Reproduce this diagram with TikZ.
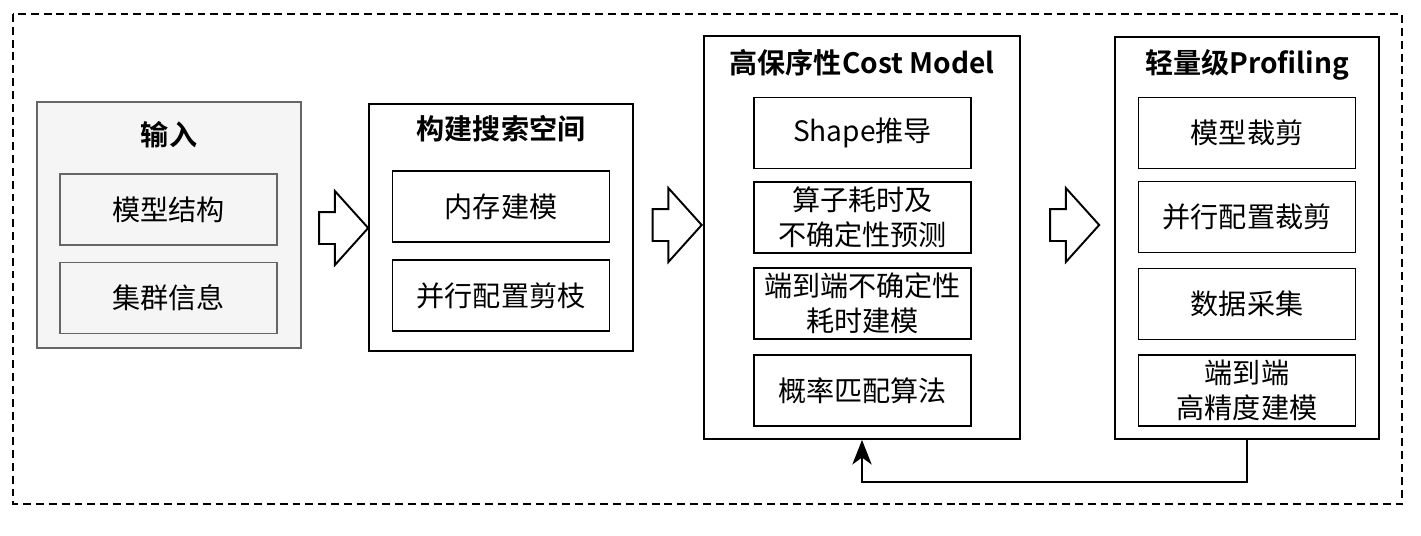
\documentclass[tikz,border=0pt]{standalone}
\usepackage{fontspec}
\setmainfont{Noto Sans CJK SC}[BoldFont={Noto Sans CJK SC Bold}]
\usetikzlibrary{positioning,shapes.arrows,arrows.meta}
\definecolor{inputfill}{HTML}{F5F5F5}
\definecolor{inputline}{HTML}{666666}

\begin{document}
\begin{tikzpicture}[x=0.02cm,y=-0.02cm,
  every node/.style={font=\fontsize{16pt}{20pt}\selectfont},
  stagebox/.style={draw,line width=1.1pt,inner sep=0pt},
  itembox/.style={draw,line width=1.1pt,inner sep=0pt,align=center,
    minimum width=4.34cm,minimum height=1.42cm},
  stagetitle/.style={font=\fontsize{16pt}{20pt}\selectfont\bfseries},
  blockarrow/.style={draw,line width=1.1pt,single arrow,inner xsep=0pt,inner ysep=0.3cm,
    minimum height=0.98cm,single arrow head extend=0.42cm,
    single arrow tip angle=96}]
\useasboundingbox (0,0) rectangle (1421,535);
\draw[line width=1.1pt,dash pattern=on 4.5pt off 2.8pt] (13,14) rectangle (1402,504);

% input
\node[stagebox,fill=inputfill,draw=inputline,minimum width=5.28cm,minimum height=4.92cm] (input) at (169,225) {};
\node[stagetitle] (inputtitle) at (169,135) {输入};
\node[itembox,fill=inputfill,draw=inputline] (model) at (168.5,209.5) {模型结构};
\node[itembox,fill=inputfill,draw=inputline] (cluster) at (168.5,298) {集群信息};

% search space
\node[stagebox,minimum width=5.28cm,minimum height=4.94cm] (space) at (501,227.5) {};
\node[stagetitle] (spacetitle) at (501,129) {构建搜索空间};
\node[itembox] (memory) at (501,206.5) {内存建模};
\node[itembox] (prune) at (501,295.5) {并行配置剪枝};

% cost model
\node[stagebox,minimum width=6.32cm,minimum height=8.06cm] (cost) at (862,237.5) {};
\node[stagetitle] (costtitle) at (862,63) {高保序性Cost Model};
\node[itembox] (shape) at (862.5,133) {Shape推导};
\node[itembox] (opcost) at (862.5,217.5) {算子耗时及\\不确定性预测};
\node[itembox] (e2ecost) at (862.5,303.5) {端到端不确定性\\耗时建模};
\node[itembox] (match) at (862.5,390.5) {概率匹配算法};

% profiling
\node[stagebox,minimum width=5.28cm,minimum height=8.04cm] (prof) at (1247,238) {};
\node[stagetitle] (proftitle) at (1247,65) {轻量级Profiling};
\node[itembox] (cut) at (1247,133) {模型裁剪};
\node[itembox] (cfgcut) at (1247,217) {并行配置裁剪};
\node[itembox] (collect) at (1247,304) {数据采集};
\node[itembox] (e2eprof) at (1247,390.5) {端到端\\高精度建模};

% arrows between stages
\node[blockarrow] (arrowa) at (336.5,228) {};
\node[blockarrow] (arrowb) at (670,225) {};
\node[blockarrow] (arrowc) at (1067.5,225) {};

\draw[line width=1.1pt,-{Stealth[length=14pt,width=11pt,inset=4pt]}] (prof.south) -- ++(0,42) -| (cost.south);
\end{tikzpicture}
\end{document}
